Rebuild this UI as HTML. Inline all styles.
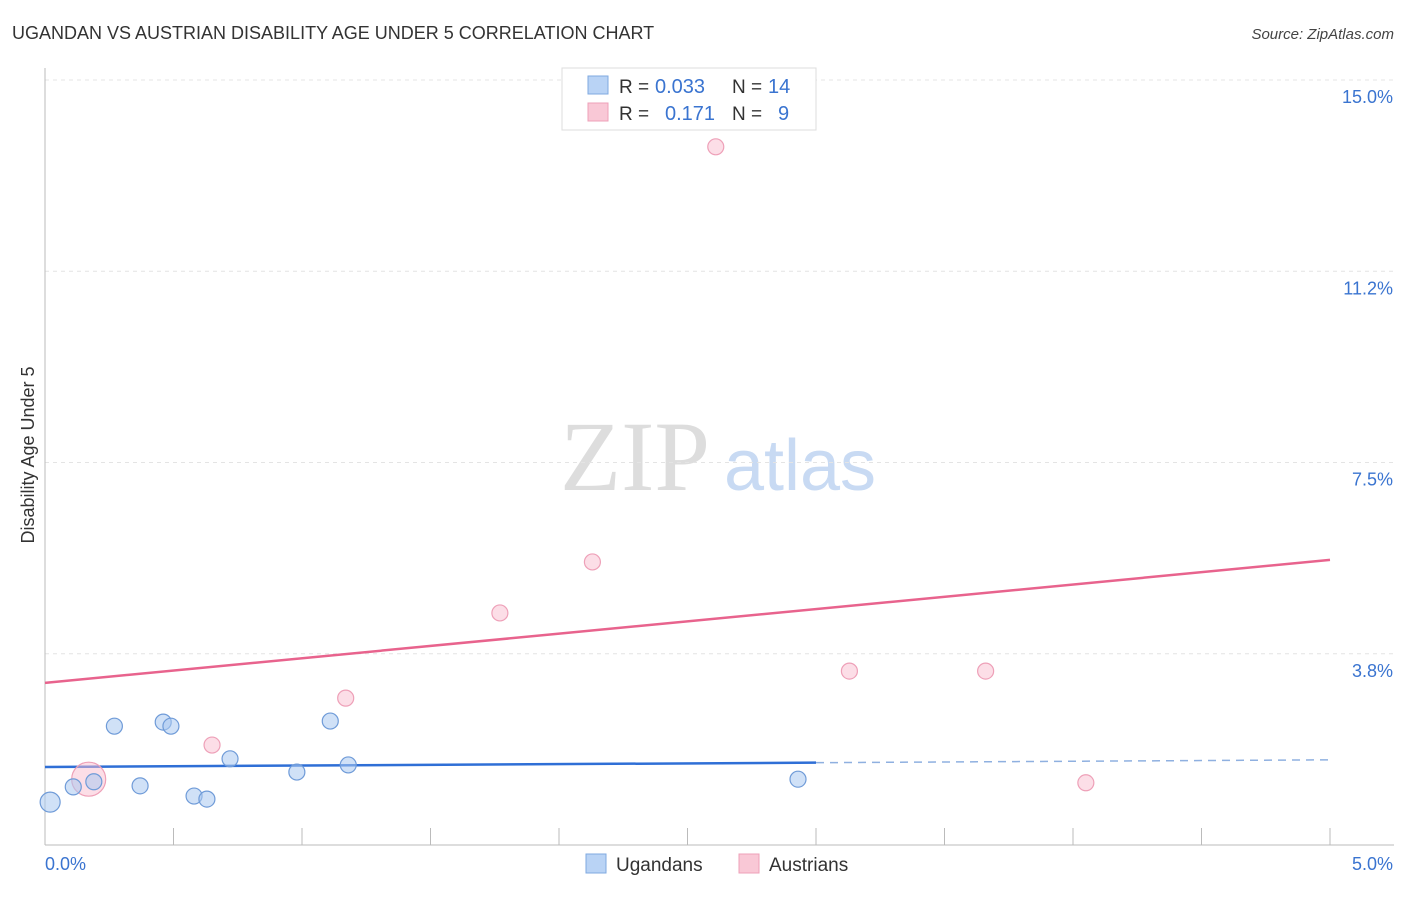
<!DOCTYPE html>
<html><head><meta charset="utf-8"><style>
body{margin:0;background:#fff;font-family:"Liberation Sans",sans-serif;}
svg text{font-family:"Liberation Sans",sans-serif;}
</style></head><body>
<svg id="chart" width="1406" height="892" xmlns="http://www.w3.org/2000/svg">
<text x="12" y="39" font-size="18" fill="#333">UGANDAN VS AUSTRIAN DISABILITY AGE UNDER 5 CORRELATION CHART</text>
<text x="1394" y="39" font-size="15" fill="#444" text-anchor="end" font-style="italic">Source: ZipAtlas.com</text>
<text transform="translate(34,455) rotate(-90)" font-size="18" fill="#333" text-anchor="middle">Disability Age Under 5</text>
<g><text x="635" y="490" font-size="100" fill="#ddd" text-anchor="middle" style="font-family:'Liberation Serif',serif">ZIP</text><text x="800" y="490" font-size="72" fill="#c8daf3" text-anchor="middle">atlas</text></g>
<g id="grid"></g><g id="axes"></g><g id="trends"></g><g id="points"></g>
<g>
<rect x="562" y="68" width="254" height="62" fill="#fff" stroke="#ddd"/>
<rect x="588" y="76" width="20" height="18" fill="#b9d3f5" stroke="#7fa9e0"/>
<text x="619" y="93" font-size="19" fill="#333">R =</text>
<text x="655" y="93" font-size="20" fill="#3a74d0">0.033</text>
<text x="732" y="93" font-size="19" fill="#333">N =</text>
<text x="768" y="93" font-size="20" fill="#3a74d0">14</text>
<rect x="588" y="103" width="20" height="18" fill="#f9c8d6" stroke="#eea0b8"/>
<text x="619" y="120" font-size="19" fill="#333">R =</text>
<text x="665" y="120" font-size="20" fill="#3a74d0">0.171</text>
<text x="732" y="120" font-size="19" fill="#333">N =</text>
<text x="778" y="120" font-size="20" fill="#3a74d0">9</text>
</g>
<g>
<rect x="586" y="854" width="20" height="19" fill="#b9d3f5" stroke="#7fa9e0"/>
<text x="616" y="871" font-size="19" fill="#333">Ugandans</text>
<rect x="739" y="854" width="20" height="19" fill="#f9c8d6" stroke="#eea0b8"/>
<text x="769" y="871" font-size="19" fill="#333">Austrians</text>
</g>
</svg>
<script>
const blueX=[0.02,0.11,0.19,0.27,0.37,0.46,0.49,0.58,0.63,0.72,0.98,1.11,1.18,2.93];
const blueY=[0.84,1.14,1.24,2.33,1.16,2.41,2.33,0.96,0.90,1.69,1.43,2.43,1.57,1.29];
const pinkX=[0.17,0.65,1.17,1.77,2.13,2.61,3.13,3.66,4.05];
const pinkY=[1.29,1.96,2.88,4.55,5.55,13.69,3.41,3.41,1.22];
const blueTrend=[1.53,1.67];
const pinkTrend=[3.18,5.59];
const yTicks=[3.75,7.5,11.25,15];
const yTickLabels=["3.8%","7.5%","11.2%","15.0%"];
const xTickLabels=["0.0%","5.0%"];
const NS="http://www.w3.org/2000/svg";
const sx=v=>45+v*257, sy=v=>845-v*51;
function mk(tag,attrs,parent){const e=document.createElementNS(NS,tag);for(const k in attrs)e.setAttribute(k,attrs[k]);document.getElementById(parent).appendChild(e);return e;}
yTicks.forEach((t,i)=>{
 const l=mk('line',{x1:45,x2:1394,y1:sy(t),y2:sy(t),stroke:'#e4e4e4','stroke-dasharray':'4,4'},'grid');
 
 
 const tx=mk('text',{x:1393,y:sy(t)+23,'font-size':18,fill:'#3a74d0','text-anchor':'end'},'grid');
 tx.textContent=yTickLabels[i];
 
 
});
let a=mk('line',{x1:45,x2:45,y1:68,y2:845,stroke:'#bbb'},'axes');


a=mk('line',{x1:45,x2:1394,y1:845,y2:845,stroke:'#bbb'},'axes');


for(let i=0;i<=10;i++){const t=mk('line',{x1:sx(i*0.5),x2:sx(i*0.5),y1:828,y2:845,stroke:'#bbb'},'axes');
 
 }
[[0,45,'start'],[5,1393,'end']].forEach((d,i)=>{const t=mk('text',{x:d[1],y:870,'font-size':18,fill:'#3a74d0','text-anchor':d[2]},'axes');t.textContent=xTickLabels[i];
 
 });
const bAt=x=>blueTrend[0]+(blueTrend[1]-blueTrend[0])*x/5;
let l=mk('line',{x1:sx(0),y1:sy(bAt(0)),x2:sx(3.0),y2:sy(bAt(3.0)),stroke:'#2f6fd6','stroke-width':2.5},'trends');


l=mk('line',{x1:sx(3.0),y1:sy(bAt(3.0)),x2:sx(5),y2:sy(bAt(5)),stroke:'#8fb0e0','stroke-width':1.5,'stroke-dasharray':'8,6'},'trends');


l=mk('line',{x1:sx(0),y1:sy(pinkTrend[0]),x2:sx(5),y2:sy(pinkTrend[1]),stroke:'#e8638d','stroke-width':2.5},'trends');


pinkX.forEach((x,i)=>{const c=mk('circle',{cx:sx(x),cy:sy(pinkY[i]),r:i==0?17:8,fill:'rgba(249,190,208,0.5)',stroke:'#eea0b8','stroke-width':1.2},'points');
 
 });
blueX.forEach((x,i)=>{const c=mk('circle',{cx:sx(x),cy:sy(blueY[i]),r:i==0?10:8,fill:'rgba(170,200,240,0.55)',stroke:'#6f9bd8','stroke-width':1.2},'points');
 
 });
</script>
</body></html>
